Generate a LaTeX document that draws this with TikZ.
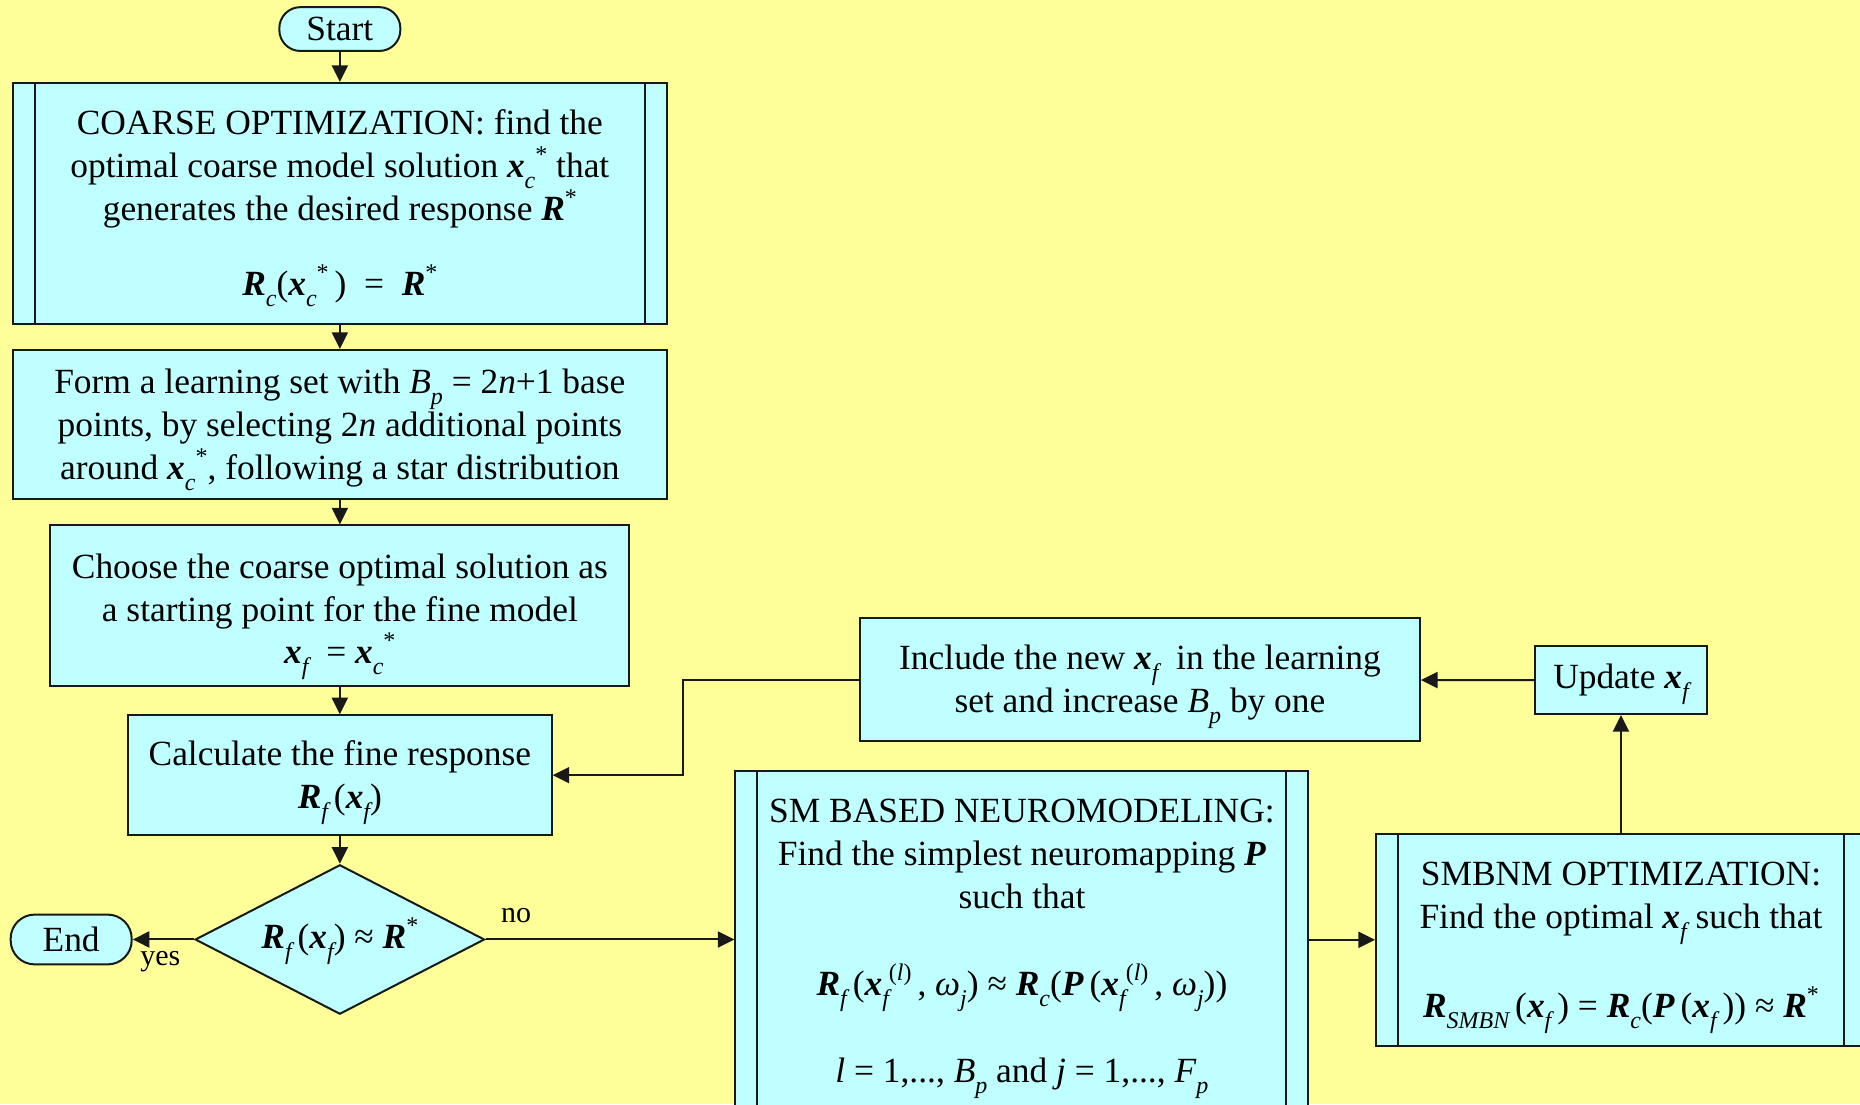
\documentclass[tikz,border=0pt]{standalone}
\usepackage{fontspec}
\setmainfont{Liberation Serif}
\usetikzlibrary{shapes.geometric,arrows.meta}
\definecolor{paper}{RGB}{255,255,153}
\definecolor{boxfill}{RGB}{191,255,255}
\newcommand{\bv}[1]{\textbf{\textit{#1}}}
\newcommand{\subi}[1]{\raisebox{-5.5pt}[0pt][0pt]{\fontsize{12}{12}\selectfont\itshape #1}}
\newcommand{\supi}[1]{\raisebox{7.5pt}[0pt][0pt]{\fontsize{12}{12}\selectfont #1}}
\newcommand{\lift}{\rule{0pt}{15.5pt}}

\begin{document}
\begin{tikzpicture}[x=0.593pt,y=-0.593pt,
    txt/.style={font={\fontsize{17.7}{21.4}\selectfont}},
    block/.style={txt,draw=black!90,fill=boxfill,line width=1pt,align=center,inner sep=0pt},
    terminal/.style={block},
    process/.style={block,path picture={
        \draw[line width=1pt] ([xshift=11pt]path picture bounding box.north west) -- ([xshift=11pt]path picture bounding box.south west)
        ([xshift=-11pt]path picture bounding box.north east) -- ([xshift=-11pt]path picture bounding box.south east);}},
    decision/.style={block,diamond,aspect=1.94},
    flow/.style={line width=1pt,draw=black!90,-{Triangle[length=8.3pt,width=8pt]}},
    answer/.style={font={\fontsize{15}{18}\selectfont}}]
\clip (0,0) rectangle (1568,931);
\fill[paper] (0,0) rectangle (1568,931);

% left column
\node[terminal,minimum width=60.5pt,minimum height=21.9pt,rounded corners=10.5pt] (start) at (286.5,24.5) {Start};
\node[process,minimum width=326.7pt,minimum height=120.4pt] (coarse) at (286.5,171.5)
    {\lift COARSE OPTIMIZATION: find the\\ optimal coarse model solution \bv{x}\subi{c}\supi{*} that\\
     generates the desired response \bv{R}\supi{*}\\[16pt]
     \bv{R}\subi{c}(\bv{x}\subi{c}\supi{*}\,)~~=~~\bv{R}\supi{*}};
\node[block,minimum width=326.7pt,minimum height=74.7pt] (learn) at (286.5,358)
    {\lift Form a learning set with \textit{B}\subi{p} = 2\textit{n}+1 base\\
     points, by selecting 2\textit{n} additional points\\
     around \bv{x}\subi{c}\supi{*}, following a star distribution};
\node[block,minimum width=289.4pt,minimum height=80.1pt] (choose) at (286.5,510.5)
    {\lift Choose the coarse optimal solution as\\ a starting point for the fine model\\
     \bv{x}\subi{f}~ = \bv{x}\subi{c}\supi{*}};
\node[block,minimum width=211.7pt,minimum height=59.9pt] (calc) at (286.5,653.5)
    {\lift Calculate the fine response\\ \bv{R}\subi{f}\,(\bv{x}\subi{f})};
\node[decision,minimum width=144.7pt,minimum height=74.7pt] (test) at (286.5,792)
    {\bv{R}\subi{f}\,(\bv{x}\subi{f}) ≈ \bv{R}\supi{*}};
\node[terminal,minimum width=60.5pt,minimum height=24.9pt,rounded corners=12pt] (end) at (60,792) {End};

% neuromodeling loop
\node[process,minimum width=286.4pt,minimum height=169.6pt] (neuro) at (861.5,793)
    {\lift SM BASED NEUROMODELING:\\ Find the simplest neuromapping \bv{P}\\ such that\\[22pt]
     \bv{R}\subi{f}\,(\bv{x}\subi{f}\supi{(\textit{l})}\,, \textit{ω}\subi{j}) ≈
     \bv{R}\subi{c}(\bv{P}\,(\bv{x}\subi{f}\supi{(\textit{l})}\,, \textit{ω}\subi{j}))\\[22pt]
     \textit{l} = 1,..., \textit{B}\subi{p} and \textit{j} = 1,..., \textit{F}\subi{p}};
\node[block,minimum width=279.9pt,minimum height=61.7pt] (include) at (961,573)
    {\lift Include the new \bv{x}\subi{f}~ in the learning\\ set and increase \textit{B}\subi{p} by one};
\node[block,minimum width=86pt,minimum height=33.8pt] (update) at (1366.5,573.5) {Update \bv{x}\subi{f}};
\node[process,minimum width=244.9pt,minimum height=105.9pt] (smbnm) at (1366.5,792.3)
    {\lift SMBNM OPTIMIZATION:\\ Find the optimal \bv{x}\subi{f} such that\\[23pt]
     \bv{R}\subi{SMBN}\,(\bv{x}\subi{f}\,) = \bv{R}\subi{c}(\bv{P}\,(\bv{x}\subi{f}\,)) ≈ \bv{R}\supi{*}};

% connectors
\draw[flow] (start) -- (coarse);
\draw[flow] (coarse) -- (learn);
\draw[flow] (learn) -- (choose);
\draw[flow] (choose) -- (calc);
\draw[flow] (calc) -- (test);
\draw[flow] (test) -- (end) node[answer,below,inner sep=5.5pt,pos=0.55]{yes};
\draw[flow] (test.east) -- (test.east -| neuro.west) node[answer,above,inner sep=8pt,pos=0.123]{no};
\draw[flow] (neuro.east |- smbnm.west) -- (smbnm.west);
\draw[flow] (smbnm) -- (update);
\draw[flow] (update) -- (include);
\coordinate (back) at (576,573);
\draw[flow] (include.west) -- (back) |- (calc.east);
\end{tikzpicture}
\end{document}
